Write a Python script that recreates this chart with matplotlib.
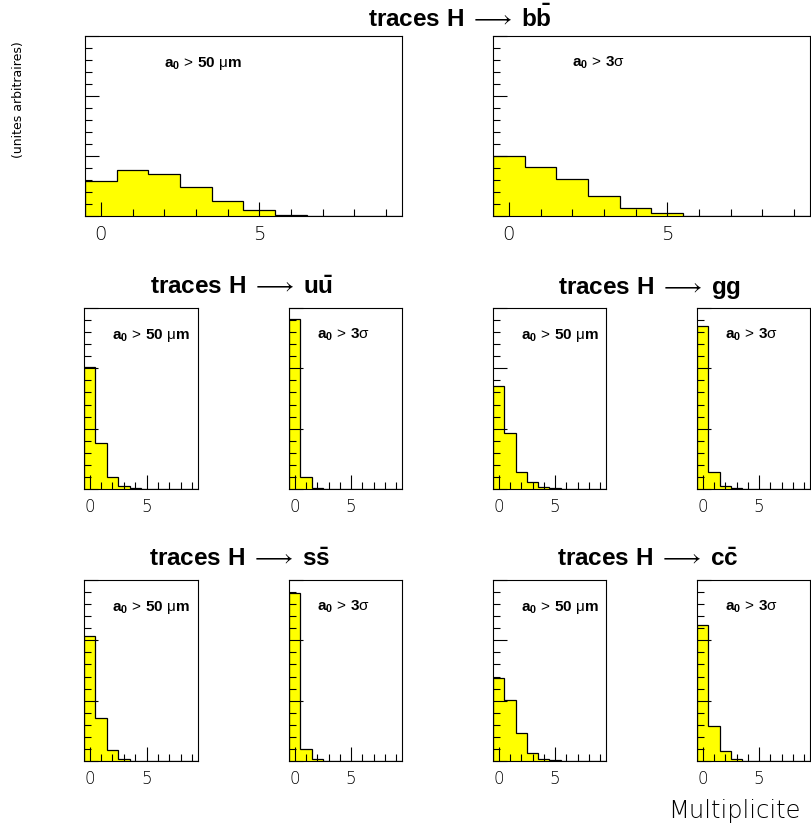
import matplotlib
matplotlib.use("Agg")
import matplotlib.pyplot as plt
import numpy as np
from matplotlib.ticker import MultipleLocator

plt.rcParams["font.family"] = ["Liberation Sans", "DejaVu Sans"]
plt.rcParams["mathtext.fontset"] = "custom"
plt.rcParams["mathtext.rm"] = "Liberation Sans"
plt.rcParams["mathtext.bf"] = "Liberation Sans:bold"
plt.rcParams["mathtext.it"] = "Liberation Sans:italic"

# bin centres 0..9 (multiplicite), heights in arbitrary units
bins = np.arange(0, 10)
bb_50um = [2.94, 3.86, 3.5, 2.44, 1.28, 0.53, 0.11, 0.03, 0, 0]
bb_3sig = [5.03, 4.11, 3.08, 1.64, 0.64, 0.22, 0.03, 0, 0, 0]
uu_50um = [10.1, 3.8, 0.97, 0.22, 0.08, 0, 0, 0, 0, 0]
uu_3sig = [14.08, 0.97, 0.08, 0.02, 0, 0, 0, 0, 0, 0]
gg_50um = [8.53, 4.64, 1.39, 0.56, 0.19, 0.06, 0, 0, 0, 0]
gg_3sig = [13.5, 1.44, 0.28, 0.08, 0, 0, 0, 0, 0, 0]
ss_50um = [10.4, 3.6, 0.89, 0.19, 0.03, 0, 0, 0, 0, 0]
ss_3sig = [13.95, 1.03, 0.14, 0.03, 0, 0, 0, 0, 0, 0]
cc_50um = [6.86, 5.06, 2.31, 0.69, 0.19, 0.05, 0, 0, 0, 0]
cc_3sig = [11.25, 2.92, 0.83, 0.14, 0.03, 0, 0, 0, 0, 0]

cut_50um = r"$\mathbf{a}_\mathbf{0}\,\mathrm{>}\,\mathbf{50}\ \mathrm{μ}\mathbf{m}$"
cut_3sig = r"$\mathbf{a}_\mathbf{0}\,\mathrm{>}\,\mathbf{3}\mathrm{σ}$"

titles = [r"traces H$\;\longrightarrow\;\mathbf{b\bar{b}}$",
          r"traces H$\;\longrightarrow\;\mathbf{u\bar{u}}$",
          r"traces H$\;\longrightarrow\;\mathbf{gg}$",
          r"traces H$\;\longrightarrow\;\mathbf{s\bar{s}}$",
          r"traces H$\;\longrightarrow\;\mathbf{c\bar{c}}$"]

W, H = 812, 829
fig = plt.figure(figsize=(W / 100, H / 100), dpi=100)


def box(x0, x1, ytop, ybot):
    return [x0 / W, 1 - ybot / H, (x1 - x0) / W, (ybot - ytop) / H]


def panel(rect, vals, label, tsize):
    ax = fig.add_axes(rect)
    edges = np.append(bins - 0.5, bins[-1] + 0.5)
    ax.stairs(vals, edges, fill=True, color="#ffff00", lw=0)
    ax.stairs(vals, edges, color="black", lw=0.9)
    ax.set_xlim(-0.5, 9.5)
    ax.set_ylim(0, 15)
    ax.xaxis.set_major_locator(MultipleLocator(5))
    ax.xaxis.set_minor_locator(MultipleLocator(1))
    ax.yaxis.set_major_locator(MultipleLocator(5))
    ax.yaxis.set_minor_locator(MultipleLocator(1))
    ax.tick_params(which="both", direction="in", top=False, right=False, width=0.8)
    ax.tick_params(which="major", length=10)
    ax.tick_params(which="minor", length=5)
    ax.tick_params(axis="y", labelleft=False)
    ax.tick_params(axis="x", labelsize=tsize, pad=6)
    for t in ax.get_xticklabels():
        t.set_fontweight("light")
        t.set_family(["DejaVu Sans"])
    for s in ax.spines.values():
        s.set_linewidth(0.8)
    ax.text(2.0, 0.855, label, transform=ax.get_xaxis_transform(),
            fontsize=11, va="center", ha="left")
    return ax


# top row (bb)
panel(box(85, 402, 37, 217), bb_50um, cut_50um, 14)
panel(box(493, 810, 37, 217), bb_3sig, cut_3sig, 14)

# narrow panels
xs = [(84, 198), (289, 402), (493, 606), (697, 810)]
mid = [uu_50um, uu_3sig, gg_50um, gg_3sig]
bot = [ss_50um, ss_3sig, cc_50um, cc_3sig]
for i, (x0, x1) in enumerate(xs):
    lab = cut_50um if i % 2 == 0 else cut_3sig
    panel(box(x0, x1, 309, 490), mid[i], lab, 12)
    panel(box(x0, x1, 581, 762), bot[i], lab, 12)

tpos = [(460, 18), (242, 288), (650, 288), (240, 560), (648, 560)]
for (tx, ty), tt in zip(tpos, titles):
    fig.text(tx / W, 1 - ty / H, tt, fontsize=17.5, fontweight="bold",
             ha="center", va="center")

fig.text(19 / W, 1 - 100 / H, "(unites arbitraires)", rotation=90, fontsize=9,
         ha="center", va="center", family=["DejaVu Sans"], color="black")
fig.text(801 / W, 1 - 811 / H, "Multiplicite", fontsize=17.5, ha="right",
         va="center", family=["DejaVu Sans"], fontweight="light")

fig.savefig("out.png", dpi=100)
